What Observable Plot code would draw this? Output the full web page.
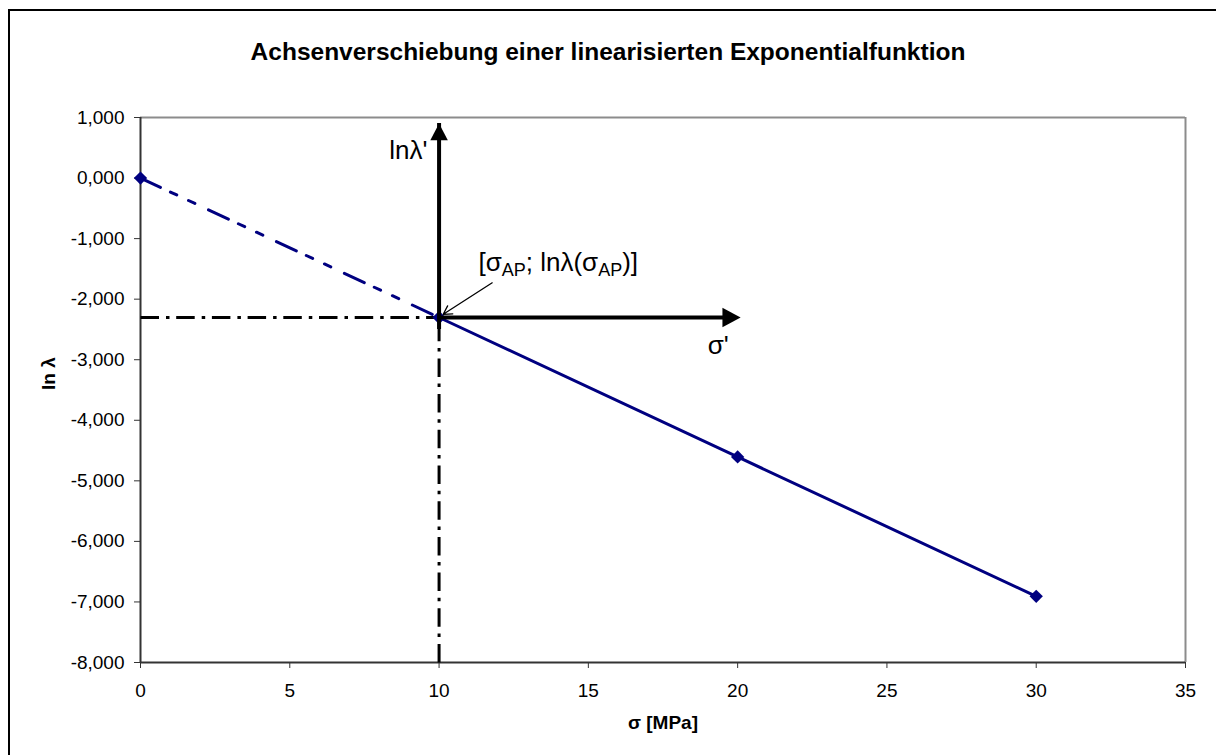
<!DOCTYPE html>
<html><head><meta charset="utf-8">
<script src="https://cdn.jsdelivr.net/npm/d3@7"></script>
<script src="https://cdn.jsdelivr.net/npm/@observablehq/plot@0.6"></script>
<style>
body{margin:0;background:#fff;}
#wrap{position:relative;width:1216px;height:755px;overflow:hidden;font-family:Arial,"Liberation Sans",sans-serif;}
#frame{position:absolute;left:8px;top:9px;width:1400px;height:1000px;border-top:2px solid #000;border-left:2px solid #000;}
#title{position:absolute;left:0;top:40px;width:1216px;text-align:center;font-weight:bold;font-size:24.5px;line-height:24.5px;color:#000;}
#chart{position:absolute;left:0;top:0;}
</style></head>
<body><div id="wrap"><div id="frame"></div><div id="chart"></div><div id="title">Achsenverschiebung einer linearisierten Exponentialfunktion</div></div>
<script>
// ---- data ----
const sigma = [0, 10, 20, 30];                 // σ [MPa]
const lnLambda = [0, -2.303, -4.605, -6.908];  // ln λ
const xTicks = [0, 5, 10, 15, 20, 25, 30, 35];
const yTicks = [1, 0, -1, -2, -3, -4, -5, -6, -7, -8];
const xDomain = [0, 35];
const yDomain = [-8, 1];
const sigmaPrimeEnd = 20.1;   // tip of σ' arrow
const lnPrimeEnd = 0.9;       // tip of lnλ' arrow
const pointerFrom = [11.78, -1.73];
const pointerTo = [10.14, -2.25];
const titleText = "Achsenverschiebung einer linearisierten Exponentialfunktion";
const xLabel = "σ [MPa]";
const yLabel = "ln λ";
const labelLnPrime = {x: 9.61, y: 0.46, t: "lnλ'"};
const labelSigmaPrime = {x: 19.35, y: -2.77, t: "σ'"};
const apParts = ["[σ", "AP", "; lnλ(σ", "AP", ")]"];
const labelAP = {x: 11.32, y: -1.40, t: apParts.join("")};

// ---- derived tables ----
const pts = sigma.map((s, i) => ({x: s, y: lnLambda[i]}));
const ap = pts[1];
const dashedSeg = pts.slice(0, 2);
const solidSeg = pts.slice(1);
const hRef = [{x1: xDomain[0], y1: ap.y, x2: ap.x, y2: ap.y}];
const vRef = [{x1: ap.x, y1: yDomain[0], x2: ap.x, y2: ap.y}];
const arrowH = [{y: ap.y, x1: ap.x, x2: sigmaPrimeEnd}];
const arrowV = [{x: ap.x, y1: ap.y, y2: lnPrimeEnd}];
const pointer = [{x1: pointerFrom[0], y1: pointerFrom[1], x2: pointerTo[0], y2: pointerTo[1]}];

const headRight = {draw(ctx, size){const r=Math.sqrt(size/Math.PI);const L=2.6*r,W=1.4*r;ctx.moveTo(0,0);ctx.lineTo(-L,-W);ctx.lineTo(-L,W);ctx.closePath();}};
const headUp = {draw(ctx, size){const r=Math.sqrt(size/Math.PI);const L=2.4*r,W=1.25*r;ctx.moveTo(0,0);ctx.lineTo(-W,L);ctx.lineTo(W,L);ctx.closePath();}};

const fmt = d => d.toFixed(3).replace(".", ",");
const navy = "#000080";

const chart = Plot.plot({
  width: 1216, height: 755,
  marginLeft: 140, marginRight: 31, marginTop: 117, marginBottom: 93,
  style: {fontFamily: "Arial, 'Liberation Sans', sans-serif", fontSize: "19px", background: "transparent", color: "#000", overflow: "visible"},
  x: {domain: xDomain},
  y: {domain: yDomain},
  marks: [
    Plot.ruleY([yDomain[1]], {stroke: "#8c8c8c", strokeWidth: 2}),
    Plot.ruleX([xDomain[1]], {stroke: "#8c8c8c", strokeWidth: 2}),
    Plot.axisX(xTicks, {tickSize: 6, tickPadding: 15, tickFormat: d => String(d), label: null, stroke: "#333"}),
    Plot.axisY(yTicks, {tickSize: 6, tickPadding: 10, tickFormat: fmt, label: null, stroke: "#333"}),
    Plot.ruleX([xDomain[0]], {stroke: "#333", strokeWidth: 2}),
    Plot.ruleY([yDomain[0]], {stroke: "#333", strokeWidth: 2}),
    Plot.link(hRef, {x1: "x1", y1: "y1", x2: "x2", y2: "y2", stroke: "#000", strokeWidth: 3, strokeDasharray: "18.5,7,3.5,6.7"}),
    Plot.link(vRef, {x1: "x1", y1: "y1", x2: "x2", y2: "y2", stroke: "#000", strokeWidth: 3, strokeDasharray: "18.5,7,3.5,6.7"}),
    Plot.line(dashedSeg, {x: "x", y: "y", stroke: navy, strokeWidth: 3, strokeDasharray: "22,11,7,13,7,15"}),
    Plot.line(solidSeg, {x: "x", y: "y", stroke: navy, strokeWidth: 3}),
    Plot.dot(pts, {x: "x", y: "y", symbol: "diamond2", r: 6, fill: navy, stroke: "none"}),
    Plot.ruleY(arrowH, {y: "y", x1: "x1", x2: "x2", stroke: "#000", strokeWidth: 4, insetRight: 12}),
    Plot.ruleX(arrowV, {x: "x", y1: "y1", y2: "y2", stroke: "#000", strokeWidth: 4, insetTop: 12}),
    Plot.dot([{x: sigmaPrimeEnd, y: ap.y}], {x: "x", y: "y", symbol: headRight, r: 7, fill: "#000", stroke: "none"}),
    Plot.dot([{x: ap.x, y: lnPrimeEnd}], {x: "x", y: "y", symbol: headUp, r: 7, fill: "#000", stroke: "none"}),
    Plot.arrow(pointer, {x1: "x1", y1: "y1", x2: "x2", y2: "y2", stroke: "#000", strokeWidth: 1.3, headLength: 11}),
    Plot.text([labelLnPrime], {x: "x", y: "y", text: "t", textAnchor: "end", fontSize: 26, fill: "#000"}),
    Plot.text([labelSigmaPrime], {x: "x", y: "y", text: "t", textAnchor: "middle", fontSize: 26, fill: "#000"}),
    Plot.text([labelAP], {x: "x", y: "y", text: "t", textAnchor: "start", fontSize: 26, fill: "#000"}),
    Plot.text([xLabel], {frameAnchor: "bottom", dy: 66, fontWeight: "bold", fontSize: 19, fill: "#000"}),
    Plot.text([yLabel], {frameAnchor: "left", dx: -91.5, rotate: -90, fontWeight: "bold", fontSize: 19, fill: "#000"})
  ]
});
document.getElementById("chart").appendChild(chart);
document.getElementById("title").textContent = titleText;

// subscripts in the annotation label
const ns = "http://www.w3.org/2000/svg";
const tEl = [...chart.querySelectorAll("text")].find(e => e.textContent === labelAP.t);
if (tEl) {
  tEl.textContent = "";
  apParts.forEach((p, i) => {
    const ts = document.createElementNS(ns, "tspan");
    ts.textContent = p;
    if (i % 2 === 1) { ts.setAttribute("font-size", "18"); ts.setAttribute("dy", "5"); }
    else if (i > 0) { ts.setAttribute("dy", "-5"); }
    tEl.appendChild(ts);
  });
}
</script>
</body></html>
